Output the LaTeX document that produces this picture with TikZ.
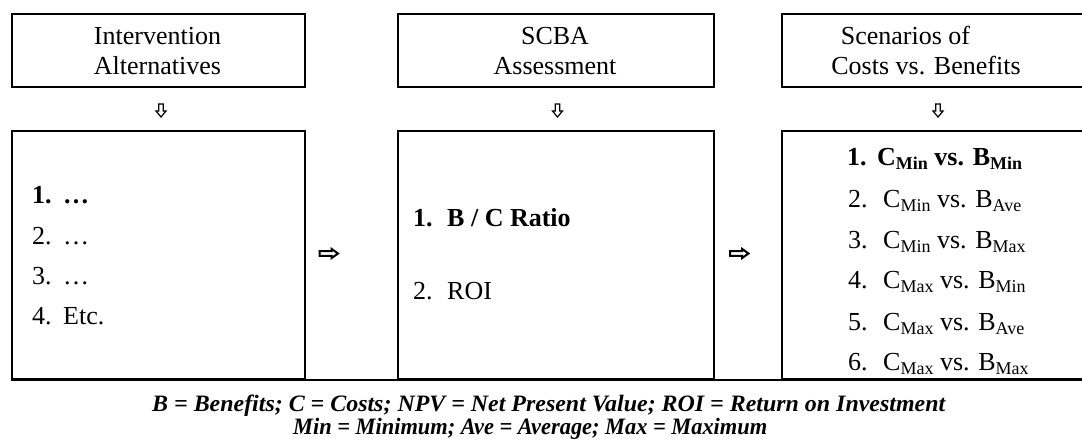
\documentclass[tikz,border=0pt]{standalone}
\usepackage{fontspec}
\usepackage{graphicx}
\setmainfont{Liberation Serif}

% list number followed by its tab gap
\newcommand\numcol[2]{\makebox[#1][l]{#2}}
% Word-style subscript
\newcommand\lowsub[1]{\raisebox{-4pt}{\fontsize{18}{18}\selectfont #1}}

\tikzset{
  cell/.style={draw, line width=2pt, inner sep=0pt, anchor=north west},
  headtext/.style={anchor=base, inner sep=0pt, font=\fontsize{26}{30}\selectfont},
  itemtext/.style={anchor=base west, inner sep=0pt, font=\fontsize{26}{30}\selectfont},
  notetext/.style={anchor=base west, inner sep=0pt, font=\fontsize{23.5}{26}\selectfont\bfseries\itshape},
  hollowdown/.pic={
    \draw[line width=1.2pt, miter limit=10]
      (-2.3,-6.5) -- (2.3,-6.5) -- (2.3,0.5) -- (5,0.5) -- (0,6.5) -- (-5,0.5) -- (-2.3,0.5) -- cycle;
  },
  hollowright/.pic={
    \draw[line width=2pt, miter limit=10]
      (-9.5,-2.3) -- (2.7,-2.3) -- (2.7,-4.5) -- (9,0) -- (2.7,4.5) -- (2.7,2.3) -- (-9.5,2.3) -- cycle;
  }
}

\begin{document}
\begin{tikzpicture}[x=1pt, y=-1pt]
\useasboundingbox (0,0) rectangle (1082,440);

% heading cells
\node[cell, minimum width=293pt, minimum height=73pt] (h1) at (11,13) {};
\node[cell, minimum width=316pt, minimum height=73pt] (h2) at (397,13) {};
\node[cell, minimum width=306pt, minimum height=73pt] (h3) at (781,13) {};

\node[headtext] (h1a) at (157.5,44) {Intervention};
\node[headtext] (h1b) at (157.5,74) {Alternatives};
\node[headtext] (h2a) at (555,44) {SCBA};
\node[headtext] (h2b) at (555,74) {Assessment};
\node[headtext] (h3a) at (905.5,44) {Scenarios of};
\node[headtext] (h3b) at (926,74) {Costs vs. Benefits};

% arrows from headings to contents
\pic at (161,110.5) {hollowdown};
\pic at (557.5,110.5) {hollowdown};
\pic at (938,110.5) {hollowdown};

% content cells
\node[cell, minimum width=293pt, minimum height=248pt] (b1) at (11,130) {};
\node[cell, minimum width=316pt, minimum height=248pt] (b2) at (397,130) {};
\node[cell, minimum width=306pt, minimum height=248pt] (b3) at (781,130) {};
\draw[line width=2pt] (b1.south west) -- (b3.south east);

% arrows between content cells
\pic at (329,253.5) {hollowright};
\pic at (739.5,253.5) {hollowright};

% alternatives
\node[itemtext, font=\fontsize{26}{30}\selectfont\bfseries] (a1) at (32,203) {\numcol{31pt}{1.}…};
\node[itemtext] (a2) at (32,244) {\numcol{31pt}{2.}…};
\node[itemtext] (a3) at (32,284) {\numcol{31pt}{3.}…};
\node[itemtext] (a4) at (32,324) {\numcol{31pt}{4.}Etc.};

% assessment
\node[itemtext, font=\fontsize{26}{30}\selectfont\bfseries] (s1) at (413,226) {\numcol{34pt}{1.}B / C Ratio};
\node[itemtext] (s2) at (413,299) {\numcol{34pt}{2.}ROI};

% scenarios
\node[itemtext, font=\fontsize{26}{30}\selectfont\bfseries] (c1) at (847,165)
  {\numcol{30pt}{1.}C\lowsub{Min} vs. B\lowsub{Min}};
\node[itemtext] (c2) at (848,207) {\numcol{35pt}{2.}C\lowsub{Min} vs. B\lowsub{Ave}};
\node[itemtext] (c3) at (848,248) {\numcol{35pt}{3.}C\lowsub{Min} vs. B\lowsub{Max}};
\node[itemtext] (c4) at (848,288) {\numcol{35pt}{4.}C\lowsub{Max} vs. B\lowsub{Min}};
\node[itemtext] (c5) at (848,330) {\numcol{35pt}{5.}C\lowsub{Max} vs. B\lowsub{Ave}};
\node[itemtext] (c6) at (848,370) {\numcol{35pt}{6.}C\lowsub{Max} vs. B\lowsub{Max}};

% legend
\node[notetext] (n1) at (152,411)
  {\resizebox{793pt}{\height}{B = Benefits; C = Costs; NPV = Net Present Value; ROI = Return on Investment}};
\node[notetext] (n2) at (293,434)
  {\resizebox{474pt}{\height}{Min = Minimum; Ave = Average; Max = Maximum}};
\end{tikzpicture}
\end{document}
